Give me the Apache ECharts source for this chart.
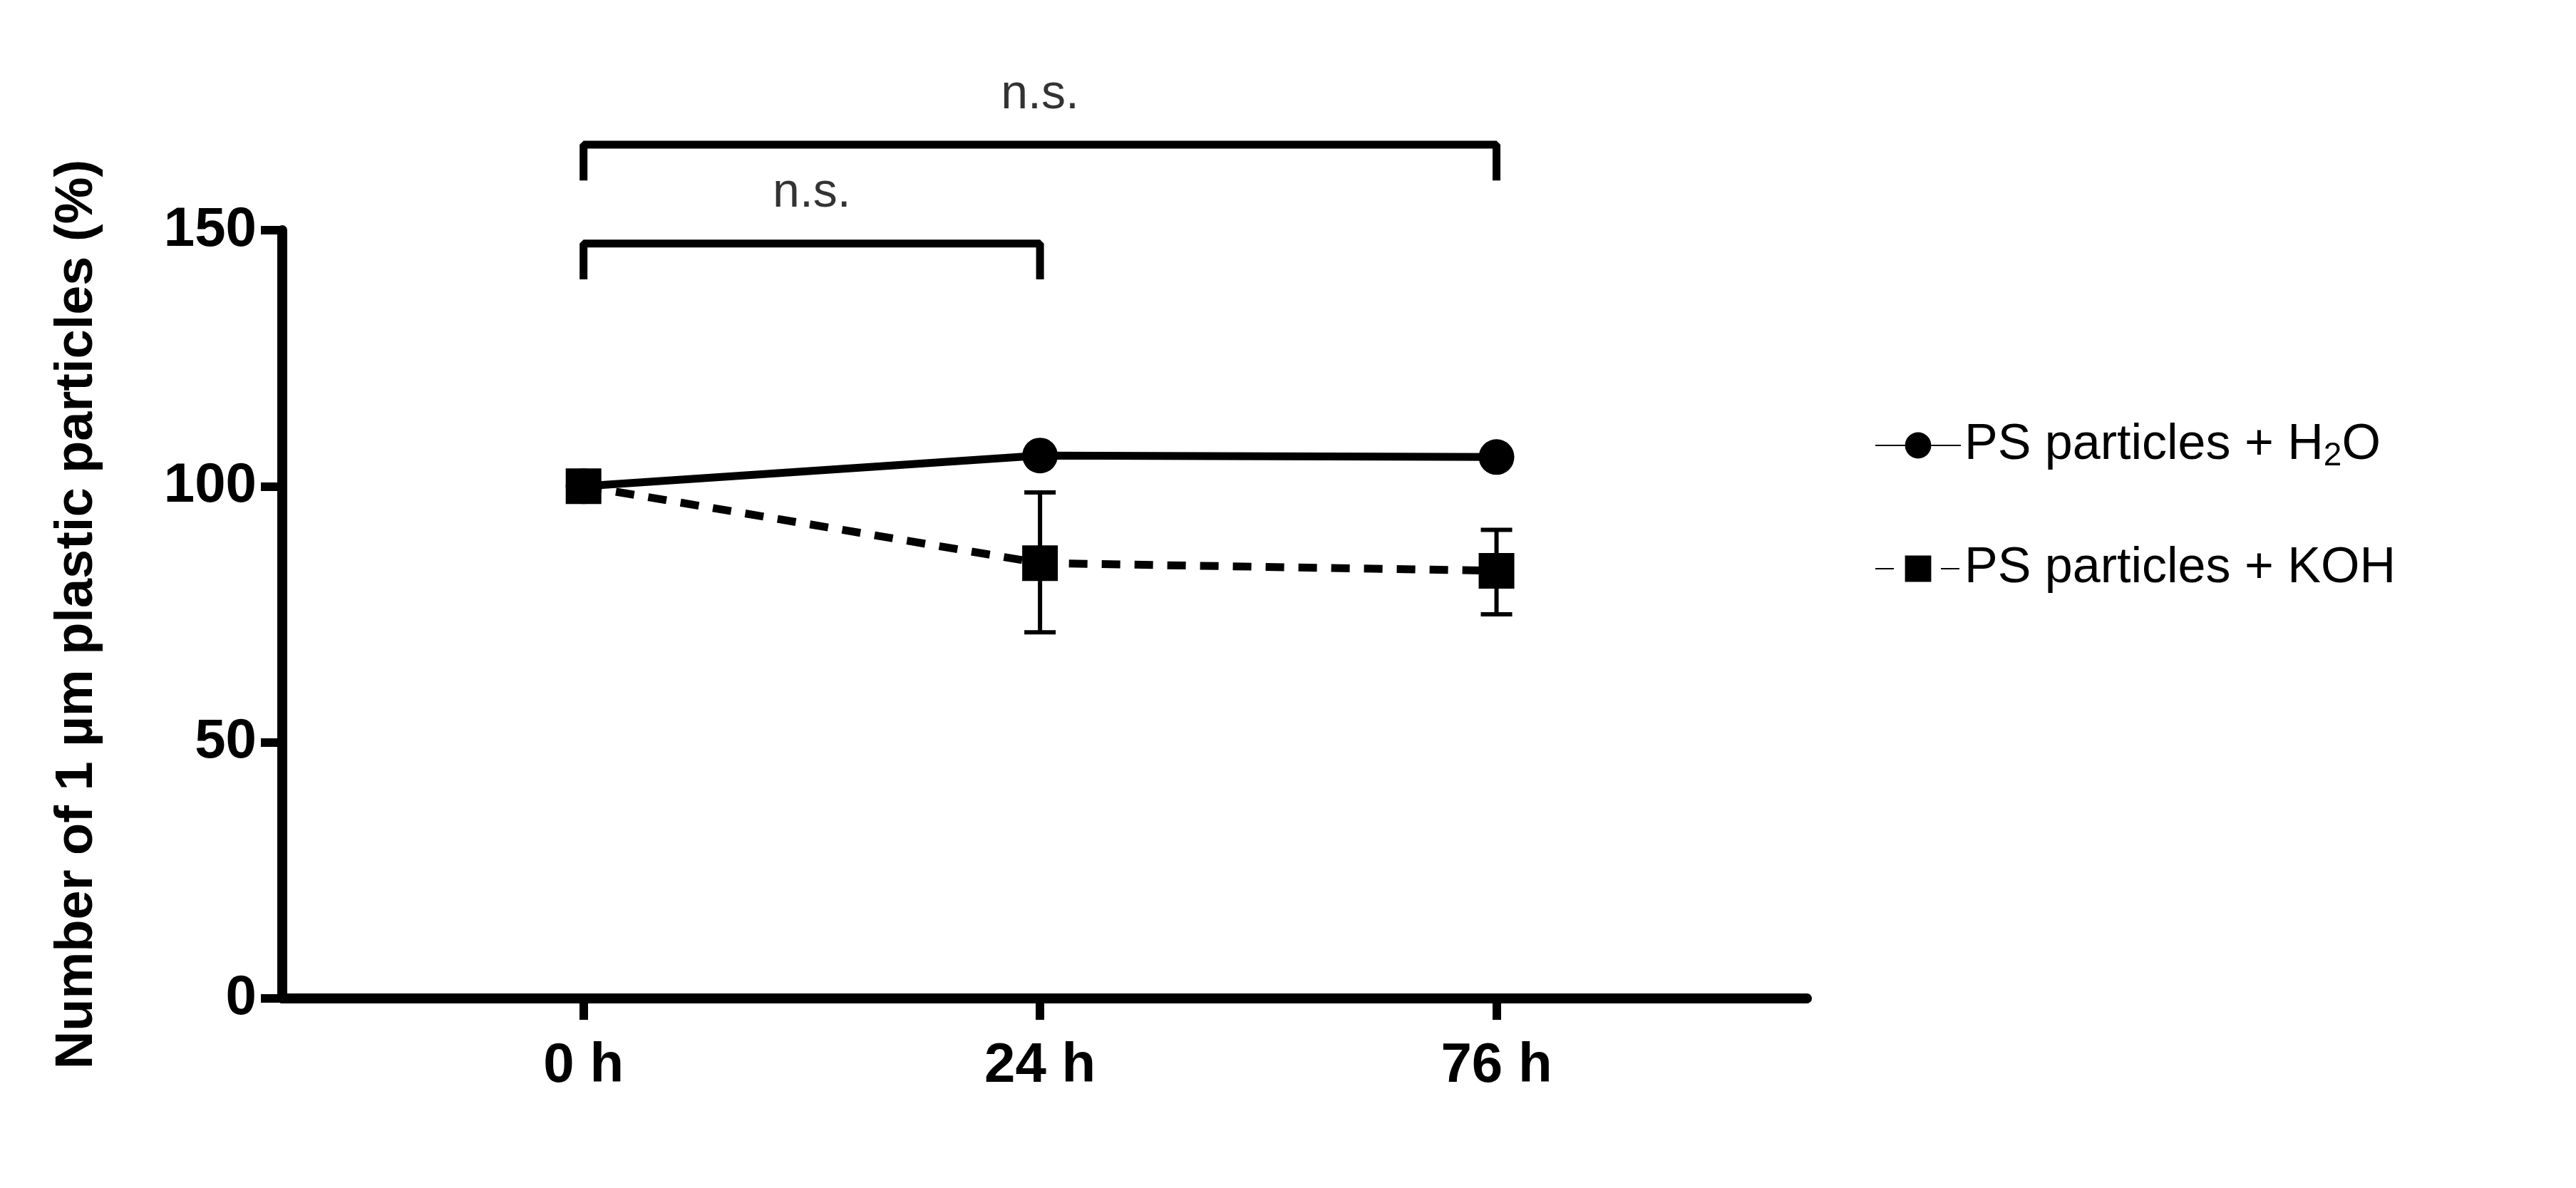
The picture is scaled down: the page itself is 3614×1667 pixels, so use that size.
<html>
<head>
<meta charset="utf-8">
<script src="https://cdn.jsdelivr.net/npm/echarts@6/dist/echarts.min.js"></script>
<style>html,body,#main{margin:0;padding:0;width:100%;height:100%;background:#fff}</style>
</head>
<body>
<div id="main"></div>
<script>
var timeLabels = ['0 h', '24 h', '76 h'];
var h2oMean = [100, 106, 105.7];
var kohMean = [100, 85, 83.5];
var kohLow = [100, 71.5, 75];
var kohHigh = [100, 98.8, 91.5];
// significance brackets: [from, to, level, label]
var brackets = [[0, 2, 166.7, 'n.s.'], [0, 1, 147.4, 'n.s.']];
var bracketDrop = 7;

var font = 'Arial, "Liberation Sans", sans-serif';
var chart = echarts.init(document.getElementById('main'));

var series = [
    {
        name: 'PS particles + H2O', type: 'line',
        data: h2oMean.map(function (v, i) { return [i, v]; }),
        symbol: 'circle', symbolSize: 50,
        lineStyle: { color: '#000', width: 11 }, itemStyle: { color: '#000' }, z: 3
    },
    {
        name: 'PS particles + KOH', type: 'line',
        data: kohMean.map(function (v, i) { return [i, v]; }),
        symbol: 'rect', symbolSize: 50,
        lineStyle: { color: '#000', width: 11, type: [26, 20] }, itemStyle: { color: '#000' }, z: 4
    },
    {
        type: 'custom', silent: true, z: 2,
        data: kohLow.map(function (v, i) { return [i, v, kohHigh[i]]; }),
        renderItem: function (params, api) {
            var lo = api.coord([api.value(0), api.value(1)]);
            var hi = api.coord([api.value(0), api.value(2)]);
            var w = 22, st = { stroke: '#000', lineWidth: 6 };
            return { type: 'group', children: [
                { type: 'line', shape: { x1: lo[0], y1: lo[1], x2: hi[0], y2: hi[1] }, style: st },
                { type: 'line', shape: { x1: lo[0] - w, y1: lo[1], x2: lo[0] + w, y2: lo[1] }, style: st },
                { type: 'line', shape: { x1: hi[0] - w, y1: hi[1], x2: hi[0] + w, y2: hi[1] }, style: st }
            ]};
        }
    }
];

brackets.forEach(function (b) {
    series.push({
        type: 'line', silent: true, clip: false, symbol: 'none',
        lineStyle: { color: '#000', width: 11 },
        data: [[b[0], b[2] - bracketDrop], [b[0], b[2]], [b[1], b[2]], [b[1], b[2] - bracketDrop]]
    });
    series.push({
        type: 'scatter', silent: true, clip: false, symbolSize: 0,
        data: [[(b[0] + b[1]) / 2, b[2]]],
        label: { show: true, formatter: b[3], position: 'top', distance: 36,
                 fontSize: 68, fontFamily: font, color: '#000' }
    });
});

chart.setOption({
    animation: false,
    grid: { left: 396, right: 1079, top: 323, bottom: 266 },
    legend: {
        data: ['PS particles + H2O', 'PS particles + KOH'],
        orient: 'vertical', left: 2625, top: 585, itemGap: 100,
        itemWidth: 120, itemHeight: 46,
        textStyle: { fontSize: 70, fontFamily: font, color: '#000',
            rich: { sub: { fontSize: 46, fontFamily: font, verticalAlign: 'bottom', padding: [30, 0, 0, 0] } } },
        formatter: function (n) { return n === 'PS particles + H2O' ? 'PS particles + H{sub|2}O' : n; }
    },
    xAxis: {
        type: 'value', min: -0.66, max: 2.68,
        splitLine: { show: false },
        axisLine: { onZero: false, lineStyle: { color: '#000', width: 14 } },
        axisTick: { customValues: [0, 1, 2], length: 30, lineStyle: { width: 12, color: '#000' } },
        axisLabel: { customValues: [0, 1, 2], margin: 56, fontSize: 78, fontWeight: 'bold', fontFamily: font, color: '#000',
            formatter: function (v) { return timeLabels[Math.round(v)]; } }
    },
    yAxis: {
        type: 'value', min: 0, max: 150, interval: 50,
        name: 'Number of 1 µm plastic particles (%)', nameLocation: 'middle', nameGap: 250,
        nameTextStyle: { fontSize: 74, fontWeight: 'bold', fontFamily: font, color: '#000' },
        splitLine: { show: false },
        axisLine: { show: true, onZero: false, lineStyle: { color: '#000', width: 14 } },
        axisTick: { show: true, length: 30, lineStyle: { width: 12, color: '#000' } },
        axisLabel: { margin: 36, fontSize: 78, fontWeight: 'bold', fontFamily: font, color: '#000' }
    },
    series: series
});
</script>
</body>
</html>
